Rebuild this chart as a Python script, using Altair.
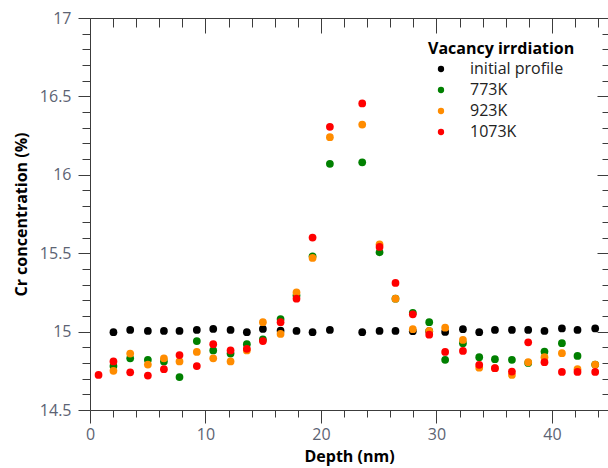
import altair as alt
import pandas as pd

# ---- data ----
depth = [0.74, 2.03, 3.48, 5.01, 6.40, 7.75, 9.25, 10.67, 12.17, 13.58,
         14.97, 16.50, 17.88, 19.27, 20.77, 23.57, 25.07, 26.45, 27.95, 29.37,
         30.75, 32.29, 33.70, 35.06, 36.53, 37.94, 39.35, 40.86, 42.21, 43.74]

initial_profile = [None, 14.996, 15.011, 15.004, 15.004, 15.004, 15.011, 15.017, 15.011, 14.996,
                   15.017, 15.006, 15.004, 14.996, 15.011, 14.996, 15.004, 15.004, 15.003, 15.003,
                   14.998, 15.015, 14.996, 15.011, 15.011, 15.011, 15.004, 15.020, 15.011, 15.020]

k773 = [None, 14.78, 14.83, 14.82, 14.81, 14.71, 14.94, 14.88, 14.86, 14.92,
        14.95, 15.08, 15.23, 15.48, 16.07, 16.08, 15.506, 15.21, 15.12, 15.06,
        14.82, 14.926, 14.837, 14.824, 14.82, 14.80, 14.873, 14.926, 14.845, 14.79]

k923 = [None, 14.75, 14.86, 14.79, 14.83, 14.81, 14.87, 14.83, 14.81, 14.88,
        15.06, 14.985, 15.25, 15.47, 16.24, 16.32, 15.557, 15.21, 15.015, 15.005,
        15.025, 14.947, 14.77, 14.767, 14.724, 14.805, 14.837, 14.862, 14.76, 14.79]

k1073 = [14.724, 14.81, 14.74, 14.72, 14.76, 14.85, 14.78, 14.92, 14.88, 14.89,
         14.94, 15.06, 15.21, 15.60, 16.306, 16.455, 15.54, 15.31, 15.11, 14.98,
         14.87, 14.877, 14.788, 14.767, 14.745, 14.932, 14.805, 14.743, 14.743, 14.743]

series_names = ["initial profile", "773K", "923K", "1073K"]
series_colors = ["#000000", "#008000", "#ff8c00", "#ff0000"]

x_major = [0, 10, 20, 30, 40]
x_minor = [v for v in range(2, 45, 2) if v % 10 != 0]
y_major = [14.5, 15, 15.5, 16, 16.5, 17]
y_minor = [round(14.5 + 0.1 * i, 1) for i in range(1, 25) if i % 5 != 0]

rows = []
for name, vals in zip(series_names, [initial_profile, k773, k923, k1073]):
    for d, v in zip(depth, vals):
        if v is not None:
            rows.append({"depth": d, "conc": v, "series": name})
df = pd.DataFrame(rows)

FONT = "Open Sans"
LABEL_COLOR = "#5c6373"
AXIS_COLOR = "#3c3c3c"
W, H = 518, 392

xs = alt.Scale(domain=[0, 44.85], nice=False, zero=False)
ys = alt.Scale(domain=[14.5, 17], nice=False, zero=False)

main = alt.Chart(df).mark_circle(size=60, opacity=1).encode(
    x=alt.X("depth:Q", scale=xs, title="Depth (nm)", axis=alt.Axis(
        orient="bottom", values=x_major, tickSize=13, labelPadding=3,
        labelFont=FONT, labelFontSize=16, labelColor=LABEL_COLOR,
        titleFont=FONT, titleFontSize=16, titleFontWeight="bold", titleColor="#000000",
        titlePadding=6, grid=False, domainColor=AXIS_COLOR, tickColor=AXIS_COLOR,
        labelFlush=False, format="d")),
    y=alt.Y("conc:Q", scale=ys, title="Cr concentration (%)", axis=alt.Axis(
        orient="left", values=y_major, tickSize=12, labelPadding=7,
        labelFont=FONT, labelFontSize=16, labelColor=LABEL_COLOR,
        titleFont=FONT, titleFontSize=16, titleFontWeight="bold", titleColor="#000000",
        titlePadding=10, grid=False, domainColor=AXIS_COLOR, tickColor=AXIS_COLOR,
        labelFlush=False, format="~g")),
    color=alt.Color("series:N", scale=alt.Scale(domain=series_names, range=series_colors),
                    legend=alt.Legend(
                        title="Vacancy irrdiation", orient="none", legendX=338, legendY=23,
                        titleFont=FONT, titleFontSize=16, titleFontWeight="bold", titleColor="#000000",
                        labelFont=FONT, labelFontSize=16, labelColor="#222222",
                        symbolType="circle", symbolSize=40, symbolStrokeWidth=0,
                        symbolOffset=5, labelOffset=21, rowPadding=5, titlePadding=4,
                        padding=0)),
)


def ghost(xaxis, yaxis):
    return alt.Chart(df).mark_circle(opacity=0, size=1).encode(
        x=alt.X("depth:Q", scale=xs, title=None, axis=xaxis),
        y=alt.Y("conc:Q", scale=ys, title=None, axis=yaxis),
    )


common = dict(grid=False, labels=False, domainColor=AXIS_COLOR, tickColor=AXIS_COLOR)

minor_bl = ghost(
    alt.Axis(orient="bottom", values=x_minor, tickSize=7, domain=False, **common),
    alt.Axis(orient="left", values=y_minor, tickSize=8, domain=False, **common),
)
major_tr = ghost(
    alt.Axis(orient="bottom", offset=-H, values=x_major, tickSize=15, domain=True, **common),
    alt.Axis(orient="left", offset=-W, values=y_major, tickSize=11, domain=True, **common),
)
minor_tr = ghost(
    alt.Axis(orient="bottom", offset=-H, values=x_minor, tickSize=9, domain=False, **common),
    alt.Axis(orient="left", offset=-W, values=y_minor, tickSize=6, domain=False, **common),
)

chart = alt.layer(main, minor_bl, major_tr, minor_tr).resolve_axis(
    x="independent", y="independent"
).properties(
    width=W, height=H,
    autosize=alt.AutoSizeParams(type="none"),
    padding={"left": 90, "top": 18, "right": 0, "bottom": 58},
    background="white",
).configure_view(stroke="transparent")

chart.save("out.html", embed_options={"renderer": "svg", "actions": False})
